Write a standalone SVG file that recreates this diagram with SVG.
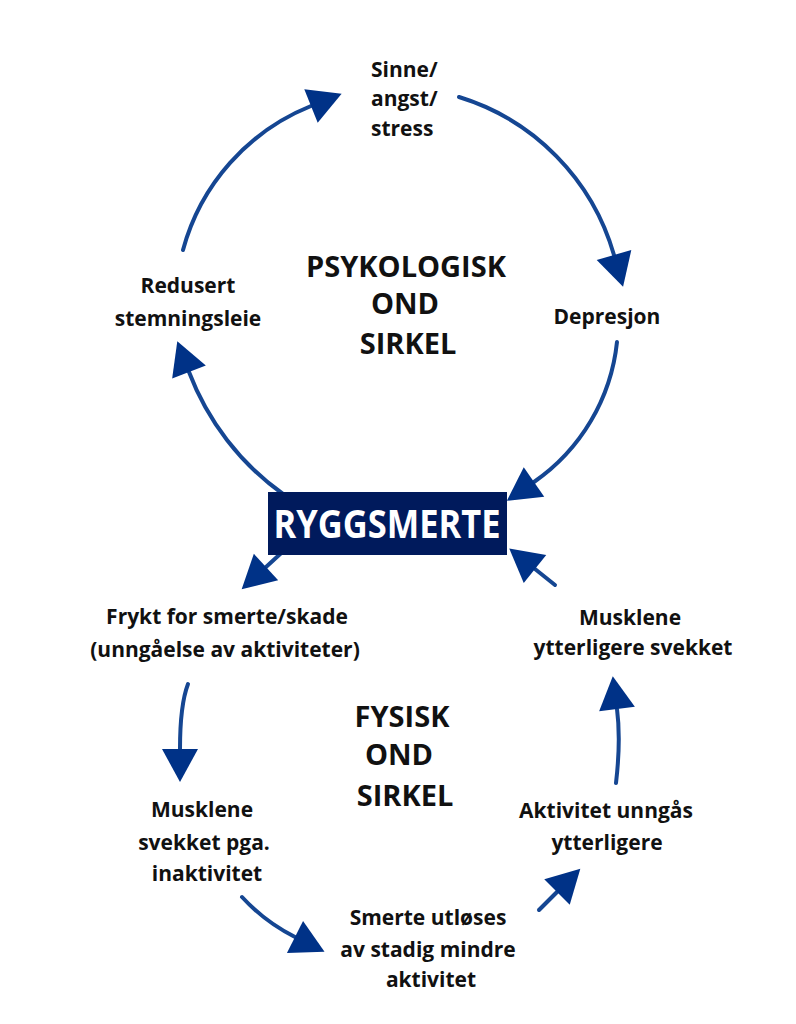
<svg xmlns="http://www.w3.org/2000/svg" width="796" height="1024" viewBox="0 0 796 1024">
<style>
.c{fill:none;stroke:#154692;stroke-width:4;stroke-linecap:round}
.t{font-family:"Open Sans","Liberation Sans",sans-serif;font-weight:700;font-size:21px;fill:#111;text-anchor:middle}
.b{font-family:"Open Sans","Liberation Sans",sans-serif;font-weight:700;font-size:29px;fill:#111;text-anchor:middle}
.l{text-anchor:start}
</style>
<defs>
<marker id="ah" markerUnits="userSpaceOnUse" markerWidth="40" markerHeight="40" refX="0" refY="0" orient="auto" overflow="visible">
<path d="M0,-18 L33,0 L0,18 Z" fill="#003287"/>
</marker>
</defs>
<rect width="796" height="1024" fill="#fff"/>
<g id="connectors">
<path class="c" d="M183,250 A216,216 0 0,1 311,106" marker-end="url(#ah)"/>
<path class="c" d="M459,97 A232,232 0 0,1 614,255" marker-end="url(#ah)"/>
<path class="c" d="M617,342 A195,195 0 0,1 534,482" marker-end="url(#ah)"/>
<path class="c" d="M283,494 A266,266 0 0,1 189,372" marker-end="url(#ah)"/>
<path class="c" d="M290,545 L266,567" marker-end="url(#ah)"/>
<path class="c" d="M188,684 Q180,705 180,749" marker-end="url(#ah)"/>
<path class="c" d="M242,897 Q265,922 295,937" marker-end="url(#ah)"/>
<path class="c" d="M539,910 L557,892" marker-end="url(#ah)"/>
<path class="c" d="M616,783 Q621,740 617,709" marker-end="url(#ah)"/>
<path class="c" d="M555,585 L535,569" marker-end="url(#ah)"/>
</g>
<g id="ryggsmerte">
<rect x="268" y="492" width="239" height="63" fill="#001a5c"/>
<text x="387" y="538" font-family="'Open Sans','Liberation Sans',sans-serif" font-weight="700" font-size="40" fill="#fff" text-anchor="middle" textLength="227" lengthAdjust="spacingAndGlyphs">RYGGSMERTE</text>
</g>
<g id="psykologisk">
<text class="b" x="406" y="277">PSYKOLOGISK</text>
<text class="b" x="405" y="314">OND</text>
<text class="b" x="408" y="354">SIRKEL</text>
</g>
<g id="fysisk">
<text class="b" x="402" y="727">FYSISK</text>
<text class="b" x="399" y="765">OND</text>
<text class="b" x="405" y="806">SIRKEL</text>
</g>
<g id="sinne">
<text class="t l" x="371" y="77">Sinne/</text>
<text class="t l" x="371" y="106">angst/</text>
<text class="t l" x="371" y="136">stress</text>
</g>
<g id="depresjon">
<text class="t" x="607" y="324">Depresjon</text>
</g>
<g id="redusert">
<text class="t" x="188" y="293">Redusert</text>
<text class="t" x="188" y="326">stemningsleie</text>
</g>
<g id="frykt">
<text class="t" x="227" y="624">Frykt for smerte/skade</text>
<text class="t" x="225" y="657">(unngåelse av aktiviteter)</text>
</g>
<g id="musklene-svekket">
<text class="t" x="202" y="817">Musklene</text>
<text class="t" x="204" y="850">svekket pga.</text>
<text class="t" x="207" y="881">inaktivitet</text>
</g>
<g id="smerte">
<text class="t" x="428" y="925">Smerte utløses</text>
<text class="t" x="428" y="957">av stadig mindre</text>
<text class="t" x="431" y="987">aktivitet</text>
</g>
<g id="aktivitet">
<text class="t" x="606" y="818">Aktivitet unngås</text>
<text class="t" x="607" y="850">ytterligere</text>
</g>
<g id="musklene-ytterligere">
<text class="t" x="630" y="625">Musklene</text>
<text class="t" x="633" y="655">ytterligere svekket</text>
</g>
</svg>
